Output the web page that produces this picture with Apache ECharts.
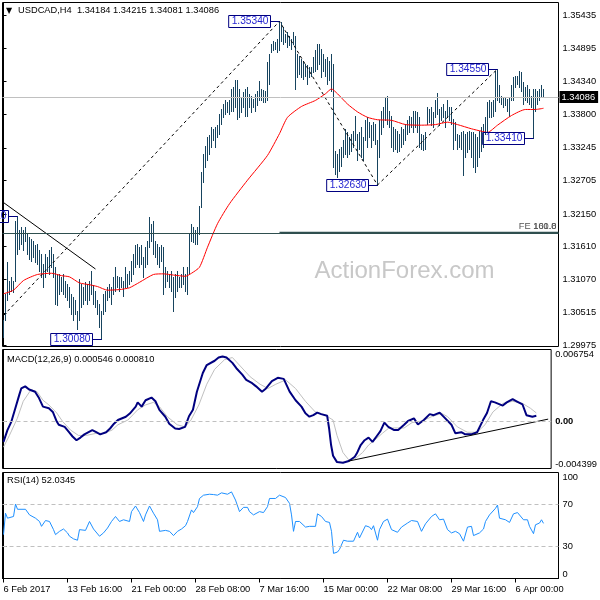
<!DOCTYPE html>
<html><head><meta charset="utf-8">
<script src="https://cdn.jsdelivr.net/npm/echarts@6/dist/echarts.min.js"></script>
<style>html,body{margin:0;padding:0;background:#fff}#c{width:600px;height:600px}</style>
</head><body><div id="c"></div>
<script>
// ---------------- data ----------------
const symbolName = 'USDCAD,H4';
const lastBar = [1.34184, 1.34215, 1.34081, 1.34086]; // O H L C of last bar
const macdValue = 0.000546, signalValue = 0.000810, rsiValue = 52.0345;

const timeTickBars = [0, 32, 64, 96, 128, 160, 192, 224, 256];
const timeLabels = ['6 Feb 2017', '13 Feb 16:00', '21 Feb 00:00', '28 Feb 08:00', '7 Mar 16:00',
  '15 Mar 00:00', '22 Mar 08:00', '29 Mar 16:00', '6 Apr 00:00'];
const priceTicks = [1.35435, 1.34895, 1.34340, 1.33800, 1.33245, 1.32705, 1.32150, 1.31610, 1.31070, 1.30515, 1.29975];
const macdTicks = [-0.004399, 0, 0.006754];
const rsiTicks = [0, 30, 70, 100];

const highs = [
 1.3039,1.3083,1.3135,1.3105,1.3110,1.3105,1.3204,1.3211,1.3188,1.3193,
 1.3188,1.3193,1.3182,1.3177,1.3174,1.3171,1.3163,1.3166,1.3155,1.3149,
 1.3133,1.3149,1.3144,1.3155,1.3160,1.3149,1.3127,1.3116,1.3116,1.3110,
 1.3116,1.3105,1.3100,1.3094,1.3083,1.3077,1.3072,1.3055,1.3108,1.3100,
 1.3094,1.3102,1.3100,1.3105,1.3121,1.3097,1.3088,1.3072,1.3066,1.3055,
 1.3083,1.3088,1.3094,1.3100,1.3094,1.3110,1.3127,1.3113,1.3110,1.3110,
 1.3105,1.3127,1.3116,1.3121,1.3138,1.3149,1.3163,1.3166,1.3160,1.3163,
 1.3144,1.3160,1.3171,1.3210,1.3199,1.3204,1.3171,1.3166,1.3160,1.3163,
 1.3160,1.3127,1.3121,1.3116,1.3121,1.3110,1.3116,1.3121,1.3110,1.3116,
 1.3127,1.3116,1.3127,1.3182,1.3199,1.3193,1.3188,1.3193,1.3229,1.3284,
 1.3315,1.3328,1.3342,1.3345,1.3359,1.3356,1.3359,1.3362,1.3381,1.3389,
 1.3397,1.3403,1.3400,1.3403,1.3422,1.3426,1.3436,1.3437,1.3422,1.3408,
 1.3417,1.3422,1.3426,1.3414,1.3411,1.3406,1.3414,1.3419,1.3435,1.3422,
 1.3420,1.3419,1.3466,1.3480,1.3497,1.3502,1.3499,1.3505,1.3534,1.3532,
 1.3524,1.3513,1.3516,1.3510,1.3505,1.3516,1.3510,1.3480,1.3477,1.3472,
 1.3469,1.3463,1.3461,1.3458,1.3458,1.3475,1.3486,1.3497,1.3497,1.3488,
 1.3480,1.3472,1.3475,1.3469,1.3480,1.3463,1.3320,1.3315,1.3323,1.3326,
 1.3337,1.3356,1.3350,1.3342,1.3348,1.3353,1.3378,1.3348,1.3350,1.3359,
 1.3342,1.3370,1.3375,1.3367,1.3362,1.3367,1.3364,1.3337,1.3370,1.3386,
 1.3392,1.3408,1.3411,1.3386,1.3378,1.3359,1.3356,1.3353,1.3348,1.3359,
 1.3356,1.3364,1.3370,1.3378,1.3375,1.3386,1.3386,1.3384,1.3375,1.3348,
 1.3345,1.3350,1.3392,1.3389,1.3392,1.3384,1.3403,1.3415,1.3389,1.3392,
 1.3397,1.3386,1.3403,1.3392,1.3392,1.3373,1.3367,1.3348,1.3345,1.3350,
 1.3353,1.3348,1.3350,1.3353,1.3350,1.3350,1.3348,1.3342,1.3353,1.3359,
 1.3364,1.3375,1.3400,1.3403,1.3400,1.3403,1.3452,1.3455,1.3428,1.3411,
 1.3408,1.3408,1.3406,1.3408,1.3428,1.3441,1.3444,1.3443,1.3451,1.3450,
 1.3433,1.3425,1.3428,1.3422,1.3411,1.3422,1.3422,1.3419,1.3422,1.3428,
 1.34215];
const lows = [
 1.3012,1.3039,1.3072,1.3083,1.3088,1.3086,1.3105,1.3149,1.3157,1.3166,
 1.3155,1.3171,1.3149,1.3141,1.3138,1.3144,1.3135,1.3133,1.3121,1.3110,
 1.3094,1.3110,1.3121,1.3116,1.3127,1.3110,1.3066,1.3064,1.3083,1.3088,
 1.3083,1.3077,1.3072,1.3061,1.3050,1.3039,1.3050,1.3025,1.3039,1.3061,
 1.3066,1.3072,1.3066,1.3072,1.3083,1.3066,1.3061,1.3050,1.3028,1.3008,
 1.3050,1.3055,1.3072,1.3077,1.3066,1.3083,1.3088,1.3094,1.3088,1.3094,
 1.3080,1.3094,1.3094,1.3100,1.3105,1.3116,1.3127,1.3133,1.3127,1.3133,
 1.3110,1.3127,1.3133,1.3160,1.3171,1.3149,1.3144,1.3133,1.3127,1.3138,
 1.3083,1.3094,1.3105,1.3094,1.3088,1.3055,1.3077,1.3088,1.3094,1.3094,
 1.3100,1.3088,1.3083,1.3116,1.3171,1.3168,1.3166,1.3166,1.3182,1.3226,
 1.3268,1.3293,1.3304,1.3315,1.3326,1.3337,1.3326,1.3342,1.3348,1.3364,
 1.3375,1.3381,1.3384,1.3381,1.3386,1.3386,1.3392,1.3373,1.3375,1.3384,
 1.3392,1.3378,1.3378,1.3392,1.3384,1.3392,1.3386,1.3395,1.3403,1.3403,
 1.3400,1.3400,1.3403,1.3430,1.3483,1.3486,1.3488,1.3483,1.3486,1.3502,
 1.3497,1.3499,1.3491,1.3494,1.3488,1.3497,1.3422,1.3441,1.3447,1.3441,
 1.3439,1.3444,1.3430,1.3441,1.3444,1.3450,1.3452,1.3455,1.3463,1.3441,
 1.3452,1.3444,1.3430,1.3436,1.3419,1.3293,1.3282,1.3276,1.3287,1.3295,
 1.3309,1.3315,1.3309,1.3315,1.3320,1.3326,1.3337,1.3304,1.3323,1.3309,
 1.3304,1.3337,1.3326,1.3342,1.3326,1.3337,1.3331,1.3263,1.3309,1.3348,
 1.3359,1.3370,1.3364,1.3359,1.3326,1.3320,1.3323,1.3317,1.3320,1.3326,
 1.3331,1.3337,1.3348,1.3350,1.3359,1.3350,1.3359,1.3350,1.3326,1.3323,
 1.3321,1.3323,1.3364,1.3367,1.3362,1.3359,1.3375,1.3381,1.3362,1.3370,
 1.3375,1.3359,1.3375,1.3370,1.3364,1.3323,1.3337,1.3323,1.3326,1.3323,
 1.3279,1.3309,1.3317,1.3323,1.3309,1.3293,1.3284,1.3295,1.3309,1.3320,
 1.3326,1.3348,1.3350,1.3375,1.3375,1.3378,1.3386,1.3403,1.3400,1.3397,
 1.3392,1.3395,1.3386,1.3378,1.3403,1.3403,1.3425,1.3430,1.3425,1.3419,
 1.3397,1.3403,1.3400,1.3397,1.3392,1.3341,1.3386,1.3397,1.3403,1.3408,
 1.34081];

// moving average (bar index, value)
const maLine = [[0,1.3083],[5,1.3089],[10,1.3105],[17,1.3115],[24,1.3117],[29,1.3113],[33,1.3111],[38,1.3101],
 [43,1.3098],[47,1.3095],[52,1.3089],[58,1.3090],[63,1.3093],[68,1.3102],[75,1.3115],[80,1.3116],[85,1.3114],
 [91,1.3112],[94,1.3117],[98,1.3127],[102,1.3160],[107,1.3199],[113,1.3232],[122,1.3271],[132,1.3312],
 [138,1.3348],[142,1.3375],[149,1.3393],[156,1.3403],[161,1.3414],[164,1.3422],[167,1.3414],[172,1.3397],
 [177,1.3384],[182,1.3375],[187,1.3371],[194,1.3370],[201,1.3363],[209,1.3362],[216,1.3363],[222,1.3367],
 [227,1.3363],[234,1.3356],[239,1.3352],[242,1.3350],[247,1.3362],[254,1.3378],[261,1.3388],[266,1.3388],[270,1.3390]];

// swing points (bar index, price)
const swingLine = [[0,1.3047],[138,1.3534],[187,1.3263],[247,1.3455]];
const trendLine = [[0,1.3234],[46,1.3124]];
const swingLabels = [[7,1.3211],[49,1.3008],[138,1.3534],[187,1.3263],[247,1.3455],[265,1.3341]];
const feLevel = [[138,1.3184]];

const macdLine = [[0,-0.0019],[2,-0.0008],[4,0.0000],[6,0.00125],[8,0.0025],[9,0.0031],[11,0.0033],[13,0.0030],
 [16,0.0028],[18,0.0022],[20,0.0014],[23,0.00125],[25,0.0009],[27,0.0000],[28,-0.0003],[31,-0.0005],[33,-0.00095],
 [35,-0.0014],[37,-0.00175],[39,-0.0015],[41,-0.0012],[45,-0.0008],[47,-0.0010],[49,-0.0012],[52,-0.0010],
 [54,-0.00065],[56,-0.0002],[58,0.00015],[62,0.00045],[64,0.00075],[67,0.0014],[68,0.0018],[70,0.0014],[72,0.0020],
 [75,0.00225],[77,0.0019],[79,0.0011],[82,0.00045],[84,-0.0002],[87,-0.00065],[89,-0.0007],[92,-0.0005],
 [94,0.0005],[96,0.0011],[98,0.0028],[101,0.00455],[103,0.0053],[107,0.0057],[109,0.0060],[111,0.0061],
 [113,0.0060],[116,0.0055],[118,0.0050],[121,0.0044],[123,0.0039],[126,0.0036],[128,0.0033],[131,0.0028],
 [133,0.0031],[136,0.0038],[139,0.0041],[142,0.0040],[143,0.0036],[145,0.0028],[148,0.0020],[151,0.0014],
 [153,0.00077],[155,0.00046],[157,0.0006],[159,0.00084],[161,0.0007],[164,0.00055],[165,-0.00065],[166,-0.0022],
 [167,-0.0032],[169,-0.0038],[172,-0.00386],[175,-0.0037],[178,-0.0033],[179,-0.0030],[181,-0.0022],
 [183,-0.00175],[185,-0.0015],[187,-0.0019],[189,-0.0014],[191,-0.0009],[193,-0.0001],[195,-0.0005],
 [198,-0.0008],[200,-0.0008],[203,-0.0003],[205,0.00005],[208,0.0003],[210,-0.00027],[213,0.00014],[216,0.0007],
 [218,0.0006],[221,0.00084],[223,0.00046],[227,-0.0003],[229,-0.0011],[232,-0.0010],[234,-0.0012],[237,-0.0012],
 [240,-0.0010],[243,0.00014],[245,0.0008],[247,0.0019],[249,0.0018],[253,0.0015],[255,0.0018],[258,0.0021],
 [260,0.0019],[263,0.0016],[265,0.0006],[268,0.00046],[270,0.000546]];
const signalLine = [[0,-0.0024],[3,-0.0013],[7,0.0003],[10,0.0019],[14,0.0030],[17,0.0028],[20,0.0020],
 [23,0.00156],[27,0.0008],[30,0.0000],[34,-0.0008],[38,-0.0013],[42,-0.0013],[47,-0.0011],[51,-0.0011],
 [55,-0.0008],[58,-0.0003],[63,0.00014],[68,0.0011],[72,0.00156],[76,0.0018],[79,0.0014],[83,0.00046],
 [88,-0.0003],[92,-0.0005],[95,0.00014],[99,0.00156],[103,0.0035],[107,0.0049],[112,0.0058],[116,0.0060],
 [120,0.0052],[125,0.0042],[130,0.0035],[134,0.0031],[138,0.0035],[143,0.0039],[148,0.0031],[153,0.0019],
 [158,0.0009],[163,0.0006],[167,0.00014],[169,-0.0013],[172,-0.0029],[175,-0.0036],[178,-0.0035],[182,-0.0029],
 [185,-0.0022],[188,-0.00175],[192,-0.0011],[195,-0.00065],[198,-0.0006],[203,-0.0006],[207,-0.0001],
 [212,0.00005],[217,0.00046],[222,0.00077],[225,0.00046],[230,-0.0005],[235,-0.0010],[240,-0.0010],
 [244,-0.0003],[248,0.0009],[253,0.0017],[258,0.0019],[263,0.0017],[267,0.00125],[270,0.00081]];
const macdTrend = [[175,-0.0037],[276,0.00023]];

const rsiLine = [[0,41.4],[1,61.6],[2,56.9],[3,56],[5,58.5],[6,70.2],[7,65.3],[8,66.2],[11,65.3],[13,60],[14,58.5],
 [16,56.9],[18,53.8],[19,49.2],[20,49.8],[21,54.7],[23,53.8],[25,46.1],[26,41.4],[28,44.5],[30,46.7],[32,43],
 [33,39.9],[35,37.4],[37,36.1],[38,46.1],[41,45.4],[43,53.8],[45,46.7],[48,39.9],[50,43],[52,47.6],[54,53.8],
 [56,58.5],[58,53.8],[60,55.4],[63,53.8],[64,63.1],[66,68.4],[68,62.2],[70,53.8],[71,60],[73,68.4],[75,61.6],
 [77,55.4],[78,44.5],[81,45.4],[83,44.5],[85,40.5],[87,44.5],[89,46.7],[91,49.8],[92,53.8],[94,64.7],[95,62.2],
 [97,67.8],[98,75.5],[100,78.6],[103,79.5],[105,79.2],[107,78.6],[109,80.8],[112,79.5],[114,81.7],[116,74],
 [118,63.1],[120,67.1],[122,67.1],[123,63.1],[125,60],[128,63.1],[130,62.2],[132,67.8],[133,75.5],[136,75.5],
 [138,78.6],[141,76.4],[143,70.9],[144,60],[145,44.5],[146,53.8],[148,53.8],[151,48.5],[153,49.2],[156,49.2],
 [157,61],[159,58.5],[161,53.8],[163,52.9],[164,44.5],[165,23.7],[167,25],[168,27.5],[169,25.9],[170,36.1],
 [172,35.2],[173,36.8],[175,35.2],[177,43.6],[178,38.3],[181,49.8],[183,48.5],[184,46.1],[185,49.8],[187,36.1],
 [188,46.1],[190,53.8],[192,56],[194,46.1],[197,43.6],[199,48.5],[202,52.3],[204,54.7],[207,53.8],[209,44.5],
 [211,51.6],[214,58.5],[216,61],[218,55.4],[220,56],[222,46.1],[224,43],[226,44.5],[228,42.3],[230,35.2],
 [232,48.5],[234,49.2],[235,40.5],[238,43],[240,46.7],[241,53.8],[243,60],[244,58.5],[246,66.2],[247,69.3],
 [248,56.9],[251,55.4],[253,52.9],[255,61],[257,62.2],[258,63.1],[260,55.4],[262,55.4],[263,49.2],[265,42.3],
 [266,50.7],[268,52.3],[269,55.4],[270,52.03]];

// ---------------- chart ----------------
const FONT = 'Liberation Sans';
const F = '9.3px "Liberation Sans"';
const chart = echarts.init(document.getElementById('c'), null, {renderer: 'canvas'});

const gridBase = {left: 2.5, width: 556, show: true, borderColor: '#000', borderWidth: 1, backgroundColor: 'transparent'};
const xBase = {type: 'value', min: -0.5, max: 277.5, splitLine: {show: false}};
const axisLbl = {color: '#000', fontSize: 9.3, fontFamily: FONT, margin: 4};

const option = {
  animation: false,
  backgroundColor: '#fff',
  textStyle: {fontFamily: FONT},
  grid: [
    Object.assign({top: 2.5, height: 344}, gridBase),
    Object.assign({top: 349.5, height: 119}, gridBase),
    Object.assign({top: 472.5, height: 106}, gridBase)
  ],
  xAxis: [
    Object.assign({gridIndex: 0, show: false}, xBase),
    Object.assign({gridIndex: 1, show: false}, xBase),
    Object.assign({gridIndex: 2,
      axisLine: {show: true, lineStyle: {color: '#000'}},
      axisTick: {show: true, customValues: timeTickBars, length: 4, lineStyle: {color: '#000'}},
      axisLabel: Object.assign({}, axisLbl, {customValues: timeTickBars, align: 'left', margin: 6,
        formatter: v => timeLabels[timeTickBars.indexOf(v)] || ''})
    }, xBase)
  ],
  yAxis: [
    {type: 'value', gridIndex: 0, position: 'right', min: 1.29958, max: 1.35650, scale: true,
      splitLine: {show: false}, axisLine: {show: true, lineStyle: {color: '#000'}},
      axisTick: {show: true, customValues: priceTicks, length: 3, lineStyle: {color: '#000'}},
      axisLabel: Object.assign({}, axisLbl, {customValues: priceTicks, formatter: v => v.toFixed(5)})},
    {type: 'value', gridIndex: 1, position: 'right', min: -0.004399, max: 0.006754,
      splitLine: {show: false}, axisLine: {show: true, lineStyle: {color: '#000'}},
      axisTick: {show: true, customValues: macdTicks, length: 3, lineStyle: {color: '#000'}},
      axisLabel: Object.assign({}, axisLbl, {customValues: macdTicks,
        verticalAlignMinLabel: 'bottom', verticalAlignMaxLabel: 'top',
        formatter: v => v === 0 ? '{b|0.00}' : v.toFixed(6),
        rich: {b: {fontWeight: 'bold', fontSize: 9.3, color: '#000'}}})},
    {type: 'value', gridIndex: 2, position: 'right', min: 0, max: 100,
      splitLine: {show: false}, axisLine: {show: true, lineStyle: {color: '#000'}},
      axisTick: {show: true, customValues: rsiTicks, length: 3, lineStyle: {color: '#000'}},
      axisLabel: Object.assign({}, axisLbl, {customValues: rsiTicks,
        verticalAlignMinLabel: 'bottom', verticalAlignMaxLabel: 'top', formatter: v => String(v)})}
  ],
  series: [
    { // high-low bars, drawn as 1-px wide filled rects for crisp pixels
      type: 'custom', xAxisIndex: 0, yAxisIndex: 0, z: 2,
      data: highs.map((h, i) => [i, lows[i], h]),
      encode: {x: 0, y: [1, 2]},
      renderItem: (params, api) => {
        const lo = api.coord([api.value(0), api.value(1)]);
        const hi = api.coord([api.value(0), api.value(2)]);
        const x = Math.floor(lo[0]);
        const y0 = Math.round(hi[1]);
        const y1 = Math.round(lo[1]) + 1;
        return {type: 'rect', shape: {x: x, y: y0, width: 1, height: Math.max(1, y1 - y0)},
          style: {fill: '#17445f'}};
      }
    },
    { // moving average
      type: 'line', xAxisIndex: 0, yAxisIndex: 0, z: 4, data: maLine, showSymbol: false, smooth: 0.2,
      lineStyle: {color: '#ff0000', width: 1},
      markLine: {
        silent: true, symbol: 'none', animation: false, precision: 6,
        data: [
          {yAxis: lastBar[3], lineStyle: {color: '#c0c0c0', type: 'solid', width: 1},
            label: {show: true, position: 'end', distance: 1, formatter: lastBar[3].toFixed(5),
              color: '#fff', backgroundColor: '#000', padding: [2, 3, 1, 2], fontSize: 9.3, fontFamily: FONT}},
          {yAxis: feLevel[0][1], lineStyle: {color: '#2f4f4f', type: 'solid', width: 1}, label: {show: false}}
        ]
      }
    },
    { // FE level from anchor to right edge
      type: 'custom', xAxisIndex: 0, yAxisIndex: 0, z: 3, data: feLevel, clip: false,
      renderItem: (params, api) => {
        const p = api.coord([api.value(0), api.value(1)]);
        const cs = params.coordSys;
        const right = cs.x + cs.width;
        return {type: 'group', children: [
          {type: 'line', shape: {x1: p[0], y1: p[1], x2: right, y2: p[1]}, style: {stroke: '#2f4f4f', lineWidth: 2}},
          {type: 'text', x: right - 2, y: p[1] - 2, style: {text: 'FE 100.0', align: 'right', verticalAlign: 'bottom', fill: '#555', font: F}},
          {type: 'text', x: right - 2, y: p[1] - 2, style: {text: '161.8', align: 'right', verticalAlign: 'bottom', fill: '#555', font: F}}
        ]};
      }
    },
    { // zigzag
      type: 'line', xAxisIndex: 0, yAxisIndex: 0, z: 3, data: swingLine, showSymbol: false,
      lineStyle: {color: '#000', width: 1, type: [3, 3]}
    },
    { // falling trend line
      type: 'line', xAxisIndex: 0, yAxisIndex: 0, z: 3, data: trendLine, showSymbol: false,
      lineStyle: {color: '#000', width: 1}
    },
    { // swing labels
      type: 'custom', xAxisIndex: 0, yAxisIndex: 0, z: 6, data: swingLabels, clip: false,
      renderItem: (params, api) => {
        const p = api.coord([api.value(0), api.value(1)]);
        const y = Math.round(p[1]) + 0.5;
        const gap = 9;
        return {type: 'group', children: [
          {type: 'line', shape: {x1: p[0] - gap, y1: y, x2: p[0], y2: y}, style: {stroke: '#000080', lineWidth: 1}},
          {type: 'text', x: p[0] - gap, y: y, style: {text: api.value(1).toFixed(5), align: 'right', verticalAlign: 'middle',
            fill: '#2525d0', font: '10.2px "Liberation Sans"', lineHeight: 11,
            borderColor: '#000080', borderWidth: 1, padding: [1, 2, 0, 3]}}
        ]};
      }
    },
    { // MACD signal
      type: 'line', xAxisIndex: 1, yAxisIndex: 1, z: 2, data: signalLine, showSymbol: false,
      lineStyle: {color: '#c0c0c0', width: 1},
      markLine: {silent: true, symbol: 'none', animation: false, precision: 6, label: {show: false},
        data: [{yAxis: 0}], lineStyle: {color: '#c0c0c0', type: [4, 3], width: 1}}
    },
    { // MACD main
      type: 'line', xAxisIndex: 1, yAxisIndex: 1, z: 3, data: macdLine, showSymbol: false,
      lineStyle: {color: '#000080', width: 2}
    },
    { // MACD trend line
      type: 'line', xAxisIndex: 1, yAxisIndex: 1, z: 4, data: macdTrend, showSymbol: false,
      lineStyle: {color: '#000', width: 1}
    },
    { // RSI
      type: 'line', xAxisIndex: 2, yAxisIndex: 2, z: 3, data: rsiLine, showSymbol: false,
      lineStyle: {color: '#1e90ff', width: 1},
      markLine: {silent: true, symbol: 'none', animation: false, precision: 6, label: {show: false},
        data: [{yAxis: 70}, {yAxis: 30}], lineStyle: {color: '#c0c0c0', type: [4, 3], width: 1}}
    }
  ],
  graphic: [
    {type: 'text', x: 6, y: 10.5, style: {text: '\u25BC', font: '8px "DejaVu Sans"', fill: '#000', verticalAlign: 'middle'}},
    {type: 'text', x: 18, y: 10.7, style: {text: symbolName + '  ' + lastBar.map(v => v.toFixed(5)).join(' '),
      font: F, fill: '#000', verticalAlign: 'middle'}},
    {type: 'text', x: 7, y: 359, style: {text: 'MACD(12,26,9) ' + macdValue.toFixed(6) + ' ' + signalValue.toFixed(6),
      font: F, fill: '#000', verticalAlign: 'middle'}},
    {type: 'text', x: 7, y: 480.7, style: {text: 'RSI(14) ' + rsiValue.toFixed(4), font: F, fill: '#000', verticalAlign: 'middle'}},
    {type: 'text', x: 404.5, y: 271.5, z: -1, style: {text: 'ActionForex.com', font: '24px "Liberation Sans"',
      fill: '#c8c8c8', align: 'center', verticalAlign: 'middle'}}
  ]
};
chart.setOption(option);
</script>
</body></html>
